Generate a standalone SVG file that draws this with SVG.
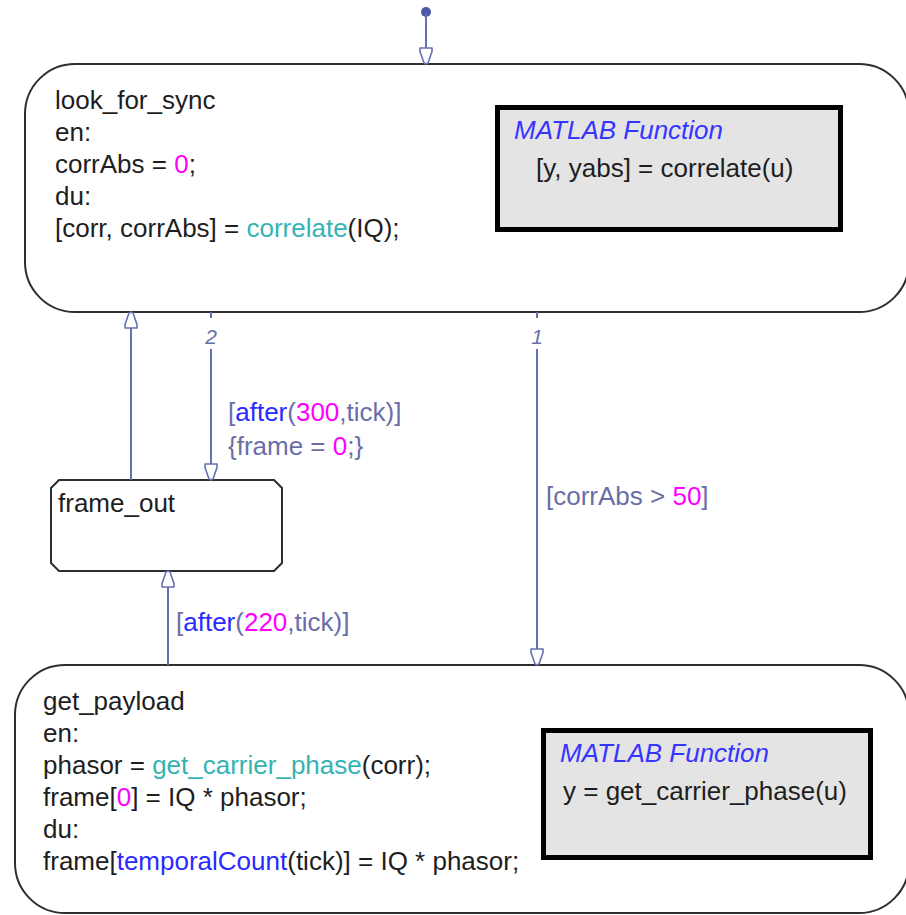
<svg xmlns="http://www.w3.org/2000/svg" width="906" height="915" viewBox="0 0 906 915">
<style>
text{font-family:"Liberation Sans",Arial,sans-serif;font-size:26px;fill:#1e1e1e}
.state{fill:#fff;stroke:#2e2e2e;stroke-width:2}
.fn{fill:#e4e4e4;stroke:#000;stroke-width:5}
.fnt{font-style:italic;fill:#3535ff}
.tr{fill:none;stroke:#6470b2;stroke-width:2}
.lbl{fill:#6a6ea8}
.num{font-size:21px;font-style:italic;fill:#6a6ea8}
.m{fill:#ff00ff}
.c{fill:#35b3b3}
.b{fill:#2a2aff}
</style>
<defs>
<marker id="arr" viewBox="-18 -8 20 16" refX="0" refY="0" markerWidth="20" markerHeight="16" markerUnits="userSpaceOnUse" orient="auto">
<path d="M-16,-6 L-12.5,-6 L-1,-2 L0,0 L-1,2 L-12.5,6 L-16,6 Z" fill="#fff" stroke="#6470b2" stroke-width="1.6" stroke-linejoin="round"/>
</marker>
</defs>

<g id="look_for_sync">
<rect class="state" x="25" y="64" width="884" height="248" rx="50" ry="50"/>
<text x="55" y="109">look_for_sync</text>
<text x="55" y="141">en:</text>
<text x="55" y="173">corrAbs = <tspan class="m">0</tspan>;</text>
<text x="55" y="205">du:</text>
<text x="55" y="237">[corr, corrAbs] = <tspan class="c">correlate</tspan>(IQ);</text>
</g>

<g id="correlate_fn">
<rect class="fn" x="497.5" y="107.5" width="343" height="122"/>
<text class="fnt" x="514" y="139">MATLAB Function</text>
<text x="536" y="177">[y, yabs] = correlate(u)</text>
</g>

<g id="frame_out">
<path class="state" d="M59,480 H274 L282,488 V563 L274,571 H59 L51,563 V488 Z"/>
<text x="58" y="512">frame_out</text>
</g>

<g id="get_payload">
<rect class="state" x="15" y="665" width="894" height="248" rx="50" ry="50"/>
<text x="43" y="710">get_payload</text>
<text x="43" y="742">en:</text>
<text x="43" y="774">phasor = <tspan class="c">get_carrier_phase</tspan>(corr);</text>
<text x="43" y="806">frame[<tspan class="m">0</tspan>] = IQ * phasor;</text>
<text x="43" y="838">du:</text>
<text x="43" y="870">frame[<tspan class="b">temporalCount</tspan>(tick)] = IQ * phasor;</text>
</g>

<g id="get_carrier_phase_fn">
<rect class="fn" x="543.5" y="730.5" width="327" height="127"/>
<text class="fnt" x="560" y="762">MATLAB Function</text>
<text x="563" y="800">y = get_carrier_phase(u)</text>
</g>

<g id="connectors">
<circle cx="426" cy="12" r="5" fill="#4a58a8"/>
<path class="tr" d="M426,14 V64" marker-end="url(#arr)"/>
<path class="tr" d="M131,480 V312" marker-end="url(#arr)"/>
<path class="tr" d="M211,312 V318 M211,349 V480" marker-end="url(#arr)"/>
<text class="num" x="211" y="344" text-anchor="middle">2</text>
<text class="lbl" x="228" y="421">[<tspan class="b">after</tspan>(<tspan class="m">300</tspan>,tick)]</text>
<text class="lbl" x="228" y="455">{frame = <tspan class="m">0</tspan>;}</text>
<path class="tr" d="M537,312 V318 M537,349 V665" marker-end="url(#arr)"/>
<text class="num" x="537" y="344" text-anchor="middle">1</text>
<text class="lbl" x="546" y="505">[corrAbs &gt; <tspan class="m">50</tspan>]</text>
<path class="tr" d="M168,665 V571" marker-end="url(#arr)"/>
<text class="lbl" x="176" y="631">[<tspan class="b">after</tspan>(<tspan class="m">220</tspan>,tick)]</text>
</g>
</svg>
